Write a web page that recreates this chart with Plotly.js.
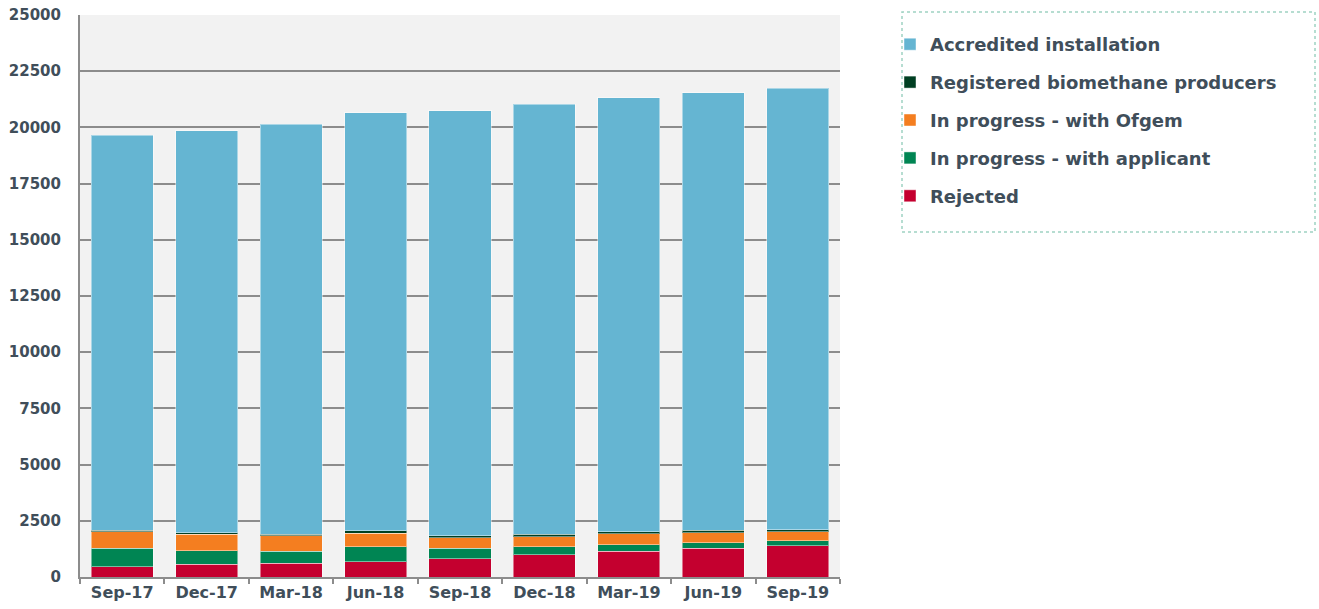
<!DOCTYPE html>
<html>
<head>
<meta charset="utf-8">
<script src="https://cdn.plot.ly/plotly-3.0.1.min.js"></script>
<style>html,body{margin:0;padding:0;background:#fff;}#chart{width:1319px;height:609px;}</style>
</head>
<body>
<div id="chart"></div>
<script>
const categories = ["Sep-17","Dec-17","Mar-18","Jun-18","Sep-18","Dec-18","Mar-19","Jun-19","Sep-19"];
const rejected = [460, 565, 610, 668, 815, 992, 1144, 1277, 1380];
const withApplicant = [820, 605, 534, 681, 463, 356, 280, 250, 236];
const withOfgem = [727, 730, 681, 596, 458, 445, 490, 432, 387];
const biomethane = [75, 60, 75, 102, 102, 107, 89, 120, 102];
const accredited = [17578, 17890, 18230, 18603, 18902, 19140, 19312, 19471, 19642];
const yTicks = [0, 2500, 5000, 7500, 10000, 12500, 15000, 17500, 20000, 22500, 25000];

const FONT = '"DejaVu Sans", Verdana, sans-serif';
const TXT = '#404e5a';

function tr(name, y, color, g, rank) {
  return {
    type: 'bar', name: name, x: categories, y: y, legendgroup: g, legendrank: rank,
    marker: {color: color, line: {color: 'rgba(255,255,255,0.45)', width: 1}},
    hoverinfo: 'x+y+name'
  };
}
const data = [
  tr('Rejected', rejected, '#c4002f', 'g1', 5),
  tr('In progress - with applicant', withApplicant, '#008553', 'g2', 4),
  tr('In progress - with Ofgem', withOfgem, '#f47e20', 'g3', 3),
  tr('Registered biomethane producers', biomethane, '#003f22', 'g4', 2),
  tr('Accredited installation', accredited, '#65b5d2', 'g5', 1)
];

const layout = {
  width: 1319, height: 609,
  margin: {l: 80, r: 479, t: 15, b: 32},
  paper_bgcolor: '#ffffff',
  plot_bgcolor: '#f2f2f2',
  barmode: 'stack',
  bargap: 0.265,
  font: {family: FONT, size: 15, color: TXT, weight: 'bold'},
  xaxis: {
    type: 'category',
    tickson: 'boundaries', ticks: 'outside', ticklen: 5, tickwidth: 2, tickcolor: '#8c8c8c',
    showline: true, linecolor: '#8c8c8c', linewidth: 2,
    showgrid: false,
    tickfont: {family: FONT, size: 16, color: TXT, weight: 'bold'},
    fixedrange: true
  },
  yaxis: {
    range: [0, 25000], tickvals: yTicks, ticktext: yTicks.map(String),
    showgrid: true, gridcolor: '#8c8c8c', gridwidth: 2,
    showline: true, linecolor: '#8c8c8c', linewidth: 2,
    zeroline: false, ticks: '', ticklabelstandoff: 14,
    tickfont: {family: FONT, size: 15, color: TXT, weight: 'bold'},
    fixedrange: true
  },
  showlegend: true,
  legend: {
    x: (890 - 80) / 760, xanchor: 'left',
    y: (577 - 26) / 562, yanchor: 'top',
    traceorder: 'grouped', tracegroupgap: 11.5,
    bgcolor: 'rgba(0,0,0,0)', borderwidth: 0,
    font: {family: FONT, size: 18, color: TXT, weight: 'bold'}
  },
  shapes: [{
    type: 'rect', xref: 'paper', yref: 'paper',
    x0: (902 - 80) / 760, x1: (1315 - 80) / 760,
    y0: (577 - 232) / 562, y1: (577 - 12) / 562,
    line: {color: '#9fd2c2', width: 1.5, dash: 'dot'}
  }]
};

Plotly.newPlot('chart', data, layout, {displayModeBar: false, staticPlot: true});
</script>
</body>
</html>
